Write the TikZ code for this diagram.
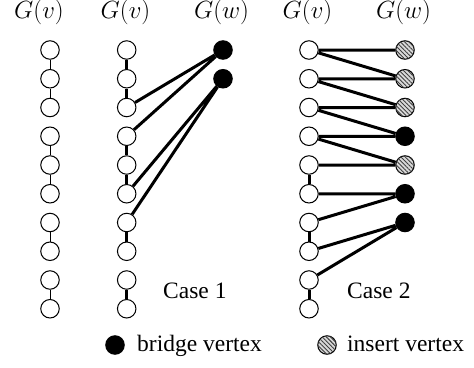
\documentclass[tikz,border=0pt]{standalone}
\usepackage{fontspec}
\setmainfont{Liberation Serif}
\usetikzlibrary{patterns.meta,backgrounds}
\begin{document}
\begin{tikzpicture}[x=1pt,y=-1pt,
  vtx/.style={circle,draw,line width=1pt,fill=white,minimum size=18.5pt,inner sep=0pt},
  bridge/.style={vtx,fill=black},
  insert/.style={vtx,fill=gray!30,
    postaction={pattern={Lines[angle=-45,distance=3pt,line width=0.9pt]},pattern color=black!75}},
  thinedge/.style={line width=0.9pt},
  thickedge/.style={line width=3pt},
  head/.style={anchor=base,font=\fontsize{23}{27}\selectfont},
  caption/.style={anchor=base west,font=\fontsize{23.5}{27}\selectfont,inner sep=0pt}]
\useasboundingbox (0,0) rectangle (474,367);

% column headings
\node[head] (h1) at (39,18.5) {$G(v)$};
\node[head] (h2) at (125.5,18.5) {$G(v)$};
\node[head] (h3) at (221.5,18.5) {$G(w)$};
\node[head] (h4) at (307.5,18.5) {$G(v)$};
\node[head] (h5) at (403.5,18.5) {$G(w)$};

% vertex columns G(v)
\foreach \i in {1,...,10} {
  \pgfmathsetmacro{\yy}{50+(\i-1)*28.75}
  \node[vtx] (a\i) at (50,\yy) {};
  \node[vtx] (b\i) at (126.7,\yy) {};
  \node[vtx] (c\i) at (309,\yy) {};
}

% case 1: G(w)
\node[bridge] (bw1) at (223,50) {};
\node[bridge] (bw2) at (223,78.75) {};

% case 2: G(w)
\node[insert] (cw1) at (405,50) {};
\node[insert] (cw2) at (405,78.75) {};
\node[insert] (cw3) at (405,107.5) {};
\node[bridge] (cw4) at (405,136.25) {};
\node[insert] (cw5) at (405,165) {};
\node[bridge] (cw6) at (405,193.75) {};
\node[bridge] (cw7) at (405,222.5) {};

\begin{scope}[on background layer]
  % paths inside G(v)
  \draw[thinedge] (a1) -- (a2) -- (a3) (a4) -- (a5) -- (a6) (a7) -- (a8) (a9) -- (a10);
  \draw[thickedge] (b1) -- (b2) -- (b3) (b4) -- (b5) -- (b6) (b7) -- (b8) (b9) -- (b10);
  \draw[thickedge] (c5) -- (c6) (c7) -- (c8) (c9) -- (c10);
  % case 1 connections
  \draw[thickedge] (b3) -- (bw1) (b4) -- (bw1) (b6) -- (bw2) (b7) -- (bw2);
  % case 2 connections
  \draw[thickedge] (c1) -- (cw1) (c1) -- (cw2) (c2) -- (cw2) (c2) -- (cw3)
    (c3) -- (cw3) (c3) -- (cw4) (c4) -- (cw4) (c4) -- (cw5) (c5) -- (cw5)
    (c6) -- (cw6) (c7) -- (cw6) (c8) -- (cw7) (c9) -- (cw7);
\end{scope}

% case captions
\node[caption] (k1) at (163,298) {Case 1};
\node[caption] (k2) at (347,298) {Case 2};

% legend
\node[bridge] (lb) at (115,345) {};
\node[caption] (lbt) at (137,351) {bridge vertex};
\node[insert] (li) at (327,345) {};
\node[caption] (lit) at (347,351) {insert vertex};
\end{tikzpicture}
\end{document}
